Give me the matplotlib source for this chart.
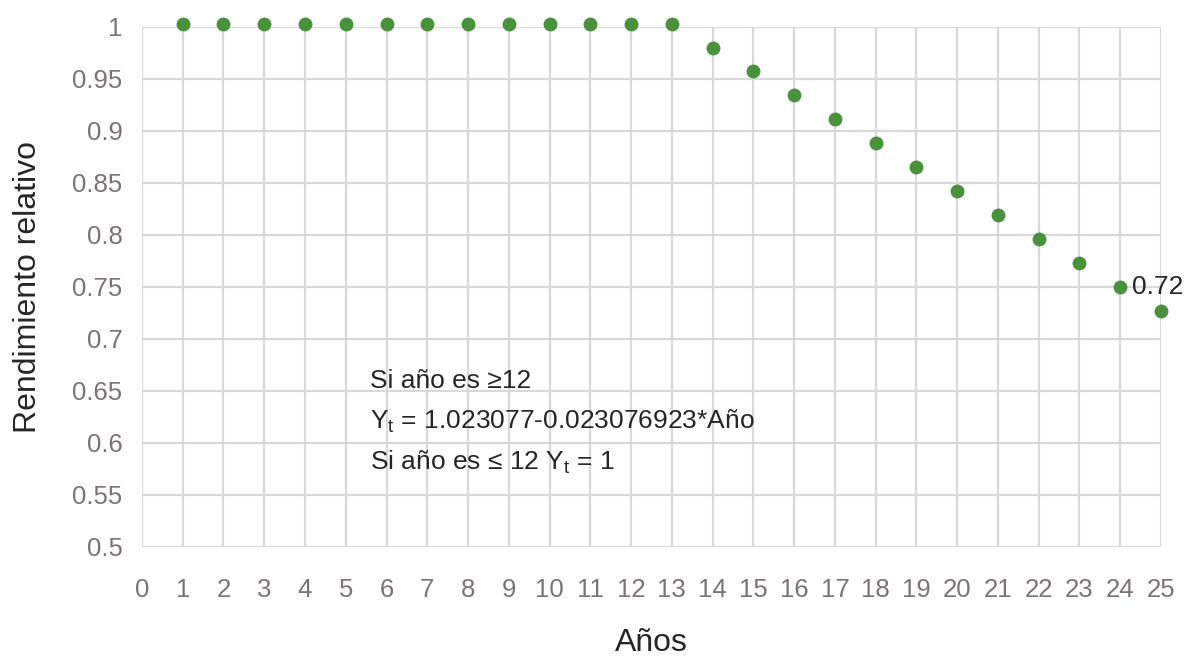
import matplotlib.pyplot as plt

plt.rcParams['font.family'] = ['Liberation Sans', 'DejaVu Sans']
plt.rcParams['mathtext.fontset'] = 'custom'
plt.rcParams['mathtext.rm'] = 'Liberation Sans'
plt.rcParams['mathtext.it'] = 'Liberation Sans'

# Data
anios = list(range(1, 26))
rendimiento = [1.003] * 13 + [0.980, 0.957, 0.934, 0.911, 0.888, 0.865,
                              0.842, 0.819, 0.796, 0.773, 0.750, 0.727]
xticks = list(range(0, 26))
yticks = [0.5, 0.55, 0.6, 0.65, 0.7, 0.75, 0.8, 0.85, 0.9, 0.95, 1.0]
ytick_labels = ['0.5', '0.55', '0.6', '0.65', '0.7', '0.75', '0.8', '0.85', '0.9', '0.95', '1']

fig = plt.figure(figsize=(11.9, 6.58), dpi=100)
ax = fig.add_axes([0.1193, 0.1687, 0.8563, 0.7907])

ax.scatter(anios, rendimiento, s=100, color='#4a913c', zorder=3, clip_on=False,
           linewidths=0)

ax.set_xlim(0, 25)
ax.set_ylim(0.5, 1.0)
ax.set_xticks(xticks)
ax.set_yticks(yticks)
ax.set_yticklabels(ytick_labels)
ax.grid(True, color='#d9d9d9', linewidth=1.6, zorder=0)
ax.set_axisbelow(True)
for s in ax.spines.values():
    s.set_visible(False)
ax.tick_params(axis='both', length=0, labelsize=18.5, colors='#7a7474')
ax.tick_params(axis='x', pad=22)
ax.tick_params(axis='y', pad=14)

ax.set_xlabel('Años', fontsize=23, color='#262626', labelpad=19)
ax.set_ylabel('Rendimiento relativo', fontsize=23, color='#262626', labelpad=21)

ax.text(24.3, 0.75, '0.72', fontsize=19, color='#262626', va='center', ha='left')

ax.text(5.6, 0.660, 'Si año es ≥12', fontsize=19, color='#262626', va='center')
ax.text(5.6, 0.621, r'$\mathregular{Y_t}$ = 1.023077-0.023076923*Año', fontsize=19,
        color='#262626', va='center')
ax.text(5.6, 0.581, r'Si año es ≤ 12 $\mathregular{Y_t}$ = 1', fontsize=19,
        color='#262626', va='center')

plt.savefig('out.png', dpi=100)
